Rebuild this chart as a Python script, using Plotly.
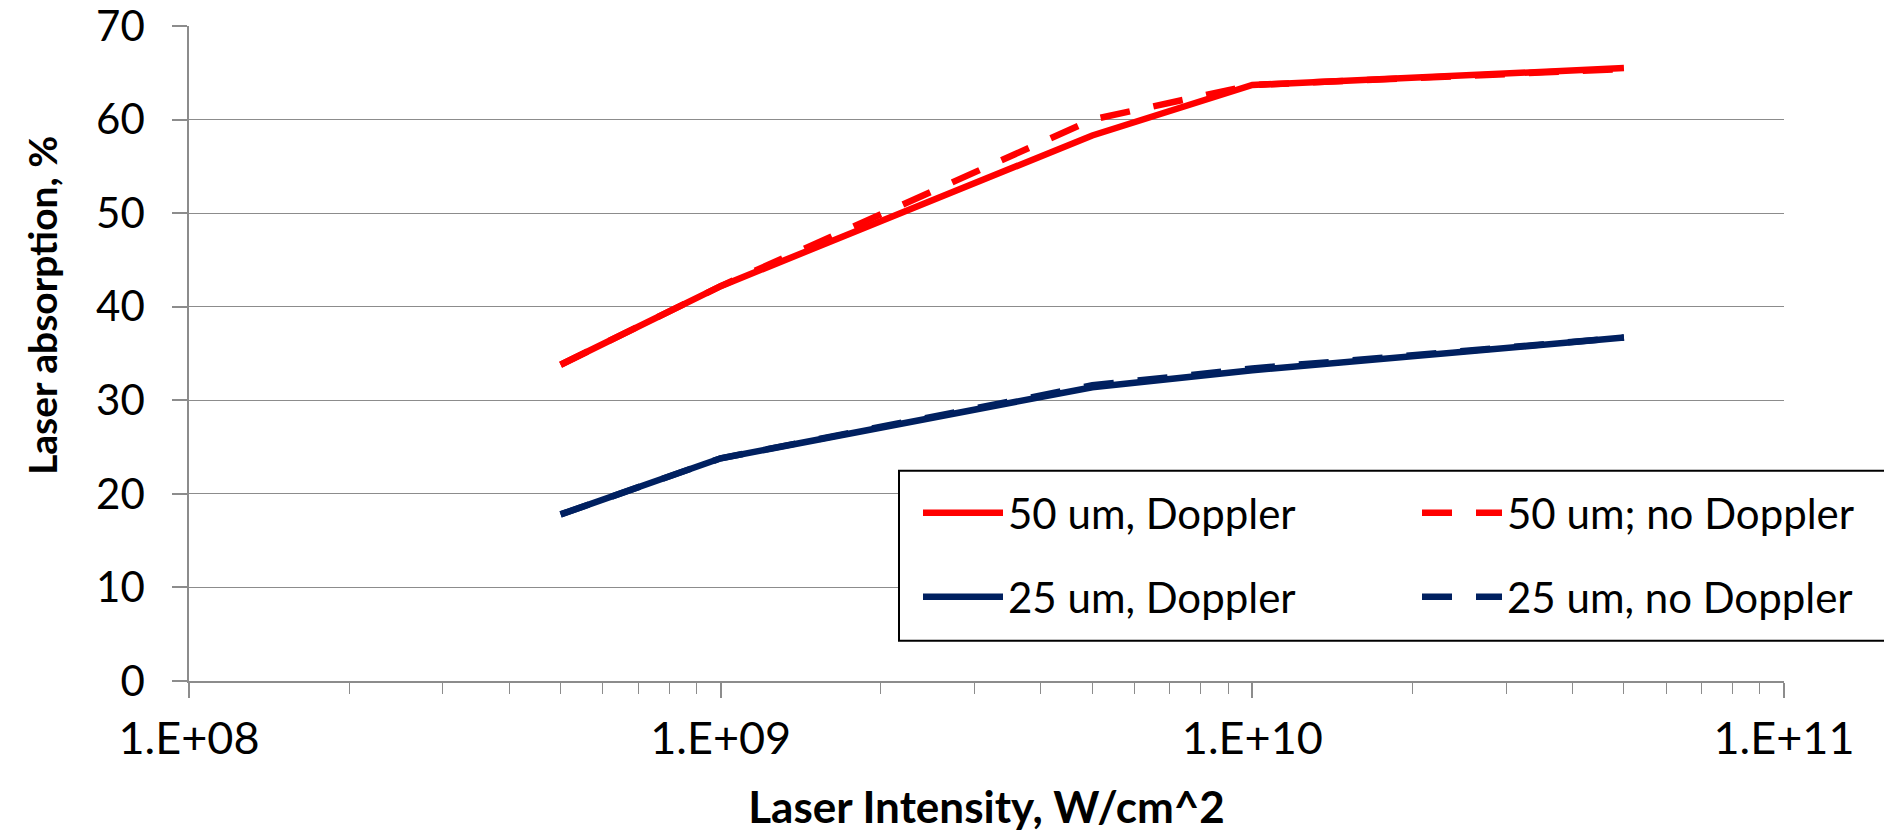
import plotly.graph_objects as go

# ---- data ----
intensity = [5e8, 1e9, 5e9, 1e10, 5e10]
abs_50_doppler = [33.8, 42.2, 58.3, 63.7, 65.5]
abs_50_no_doppler = [33.8, 42.2, 60.0, 63.7, 65.4]
abs_25_doppler = [17.8, 23.8, 31.4, 33.2, 36.7]
abs_25_no_doppler = [17.8, 23.8, 31.6, 33.4, 36.7]

x_tickvals = [1e8, 1e9, 1e10, 1e11]
x_ticktext = ["1.E+08", "1.E+09", "1.E+10", "1.E+11"]
x_minor = [m * 10 ** e for e in (8, 9, 10) for m in range(2, 10)]

RED = "#FF0000"
NAVY = "#002060"
GRID = "#8c8c8c"
FONT = "Lato"

fig = go.Figure()
fig.add_trace(go.Scatter(x=intensity, y=abs_50_doppler, mode="lines",
                         name="50 um, Doppler", legend="legend",
                         line=dict(color=RED, width=6.5)))
fig.add_trace(go.Scatter(x=intensity, y=abs_50_no_doppler, mode="lines",
                         name="50 um; no Doppler", legend="legend",
                         line=dict(color=RED, width=6.5, dash="30px,24px")))
fig.add_trace(go.Scatter(x=intensity, y=abs_25_doppler, mode="lines",
                         name="25 um, Doppler", legend="legend2",
                         line=dict(color=NAVY, width=6.5)))
fig.add_trace(go.Scatter(x=intensity, y=abs_25_no_doppler, mode="lines",
                         name="25 um, no Doppler", legend="legend2",
                         line=dict(color=NAVY, width=6.5, dash="30px,24px")))

W, H = 1884, 832
ml, mr, mt, mb = 189, 100, 26, 151
pw, ph = W - ml - mr, H - mt - mb


def px(xf):
    return (xf - ml) / pw


def py(yf):
    return (H - mb - yf) / ph


legend_common = dict(orientation="h", xanchor="left", yanchor="middle",
                     entrywidth=404, entrywidthmode="pixels", itemwidth=80,
                     bgcolor="rgba(0,0,0,0)", borderwidth=0,
                     font=dict(family=FONT, size=42, color="black"),
                     traceorder="normal")

fig.update_layout(
    width=W, height=H,
    margin=dict(l=ml, r=mr, t=mt, b=mb, autoexpand=False),
    paper_bgcolor="white", plot_bgcolor="white",
    font=dict(family=FONT, color="black"),
    showlegend=True,
    legend=dict(x=px(918), y=py(513), **legend_common),
    legend2=dict(x=px(918), y=py(597), **legend_common),
    xaxis=dict(type="log", range=[8, 11],
               tickmode="array", tickvals=x_tickvals, ticktext=x_ticktext,
               ticks="outside", ticklen=15, tickwidth=1.5, tickcolor=GRID,
               showline=True, linecolor=GRID, linewidth=1.5,
               showgrid=False, zeroline=False,
               tickfont=dict(family=FONT, size=45, color="black"),
               ticklabelstandoff=2, ticklabeloverflow="allow",
               minor=dict(tickmode="array", tickvals=x_minor, ticks="outside",
                          ticklen=11, tickwidth=1.2, tickcolor=GRID, showgrid=False),
               title=dict(text="<b>Laser Intensity, W/cm^2</b>",
                          font=dict(family=FONT, size=44, color="black"),
                          standoff=36)),
    yaxis=dict(range=[0, 70], dtick=10, tick0=0,
               ticks="outside", ticklen=15, tickwidth=1.5, tickcolor=GRID,
               showline=True, linecolor=GRID, linewidth=1.5,
               showgrid=True, gridcolor=GRID, gridwidth=1.3, zeroline=False,
               tickfont=dict(family=FONT, size=42, color="black"),
               ticklabelstandoff=19, ticklabeloverflow="allow"),
    shapes=[dict(type="rect", xref="paper", yref="paper",
                 x0=px(899), x1=px(W + 10), y0=py(640.7), y1=py(470.7),
                 line=dict(color="black", width=2), fillcolor="white",
                 layer="above")],
    annotations=[dict(text="<b>Laser absorption, %</b>", textangle=-90,
                      xref="paper", yref="paper", x=px(42), y=py(306),
                      xanchor="center", yanchor="middle", showarrow=False,
                      font=dict(family=FONT, size=39, color="black"))],
)

fig.write_html("out.html")
